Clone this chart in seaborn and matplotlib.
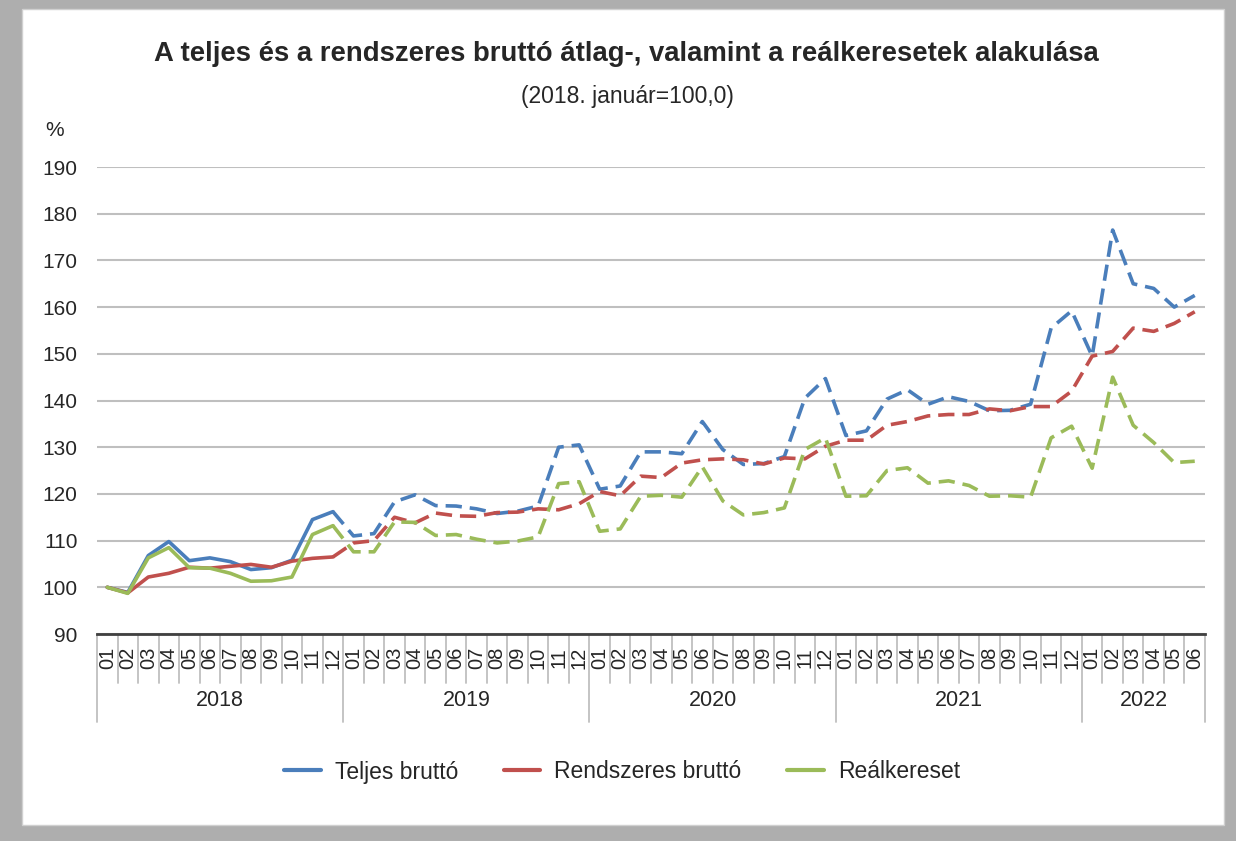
import numpy as np
import pandas as pd
import matplotlib.pyplot as plt
import matplotlib.transforms as mtransforms
from matplotlib.patches import Rectangle
from matplotlib.lines import Line2D
import seaborn as sns

# data (2018. január = 100,0)
years = ["2018", "2019", "2020", "2021", "2022"]
months_per_year = [12, 12, 12, 12, 6]
month_labels = [f"{m:02d}" for n in months_per_year for m in range(1, n + 1)]

teljes = [100.0, 98.9, 106.8, 109.8, 105.7, 106.3, 105.5, 103.8, 104.2, 105.8, 114.5, 116.2,
          111.0, 111.5, 118.3, 119.8, 117.5, 117.4, 116.8, 115.8, 116.3, 117.4, 130.0, 130.5,
          121.0, 121.7, 129.0, 129.0, 128.6, 135.5, 129.5, 126.3, 126.5, 128.0, 140.5, 144.7,
          132.5, 133.5, 140.3, 142.3, 139.2, 140.8, 139.8, 137.8, 137.9, 139.2, 155.5, 159.2,
          149.5, 176.5, 165.0, 164.0, 160.0, 162.5]
rendszeres = [100.0, 98.8, 102.2, 103.0, 104.3, 104.1, 104.5, 104.9, 104.3, 105.6, 106.2, 106.5,
              109.5, 110.0, 115.0, 113.8, 115.9, 115.3, 115.2, 116.0, 116.1, 116.8, 116.6, 117.9,
              120.5, 119.6, 123.8, 123.5, 126.6, 127.3, 127.5, 127.3, 126.4, 127.7, 127.5, 130.2,
              131.5, 131.5, 134.7, 135.5, 136.7, 137.0, 137.0, 138.2, 137.8, 138.7, 138.7, 142.0,
              149.5, 150.5, 155.5, 154.8, 156.5, 159.0]
realkereset = [100.0, 98.7, 106.3, 108.5, 104.2, 104.1, 103.0, 101.3, 101.4, 102.2, 111.3, 113.2,
               107.6, 107.6, 114.0, 113.9, 111.1, 111.3, 110.3, 109.5, 109.9, 110.8, 122.2, 122.6,
               112.0, 112.5, 119.5, 119.7, 119.3, 125.8, 118.5, 115.5, 116.0, 117.0, 129.5, 132.0,
               119.5, 119.6, 125.0, 125.6, 122.3, 122.8, 121.8, 119.5, 119.6, 119.3, 132.0, 134.5,
               125.5, 145.0, 134.7, 131.0, 126.7, 127.0]

series_names = ["Teljes bruttó", "Rendszeres bruttó", "Reálkereset"]
colors = ["#4a7ebb", "#c0504d", "#9bbb59"]
solid_until = 11  # 2018-12, dashed afterwards

n = len(month_labels)
df = pd.DataFrame({"idx": np.tile(np.arange(n), 3),
                   "series": np.repeat(series_names, n),
                   "value": teljes + rendszeres + realkereset})

sns.set_theme(style="white")
plt.rcParams["font.family"] = ["Liberation Sans", "DejaVu Sans"]
text_col = "#262626"

fig = plt.figure(figsize=(12.36, 8.41), dpi=100)
fig.patch.set_facecolor("#aeaeae")
W, H = 1236, 841
fig.patches.append(Rectangle((22 / W, 1 - 825 / H), (1224 - 22) / W, (825 - 9) / H,
                             transform=fig.transFigure, facecolor="white",
                             edgecolor="#d0d0d0", lw=1, zorder=-10))

ax = fig.add_axes([97 / W, 1 - 634 / H, (1205 - 97) / W, (634 - 167) / H])
ax.set_facecolor("none")
palette = dict(zip(series_names, colors))

sns.lineplot(data=df[df["idx"] <= solid_until], x="idx", y="value", hue="series",
             palette=palette, lw=2.6, ax=ax, legend=False)
sns.lineplot(data=df[df["idx"] >= solid_until], x="idx", y="value", hue="series",
             palette=palette, lw=2.6, ax=ax, legend=False)
for line in ax.lines[3:]:
    line.set_dashes((4.5, 2.2))

ax.set_xlim(-0.5, n - 0.5)
ax.set_ylim(90, 190)
ax.set_yticks(range(90, 191, 10))
ax.yaxis.grid(True, color="#bfbfbf", lw=1.5)
ax.set_axisbelow(True)
for s in ["left", "right", "top"]:
    ax.spines[s].set_visible(False)
ax.spines["bottom"].set_color("#404040")
ax.spines["bottom"].set_linewidth(2)
ax.set_xticks([])
ax.tick_params(axis="y", length=0, labelsize=15, labelcolor=text_col, pad=14)
ax.set_xlabel("")
ax.set_ylabel("")

# two-level category axis
trans = mtransforms.blended_transform_factory(ax.transData, ax.transAxes)
ph = 634 - 167
for i, lab in enumerate(month_labels):
    ax.text(i, -(658 - 634) / ph, lab, transform=trans, rotation=90,
            ha="center", va="center", fontsize=14.5, color=text_col)
bounds = np.cumsum([0] + months_per_year)
for i in range(n + 1):
    low = -(722 - 634) / ph if i in bounds else -(683 - 634) / ph
    ax.plot([i - 0.5, i - 0.5], [0, low], transform=trans, color="#bfbfbf",
            lw=1.3, clip_on=False)
for y, a, b in zip(years, bounds[:-1], bounds[1:]):
    ax.text((a + b - 1) / 2, -(700 - 634) / ph, y, transform=trans,
            ha="center", va="center", fontsize=15.5, color=text_col)

fig.text(626 / W, 1 - 54 / H, "A teljes és a rendszeres bruttó átlag-, valamint a reálkeresetek alakulása",
         ha="center", va="center", fontsize=19.8, fontweight="bold", color=text_col)
fig.text(627 / W, 1 - 97 / H, "(2018. január=100,0)", ha="center", va="center",
         fontsize=16.5, color=text_col)
fig.text(55 / W, 1 - 130 / H, "%", ha="center", va="center", fontsize=15, color=text_col)

handles = [Line2D([], [], color=c, lw=3) for c in colors]
fig.legend(handles, series_names, loc="center", bbox_to_anchor=(622 / W, 1 - 772 / H),
           ncol=3, frameon=False, fontsize=16.5, handlelength=1.6, columnspacing=2.0,
           handletextpad=0.6, labelcolor=text_col)

fig.savefig("out.png", dpi=100, facecolor=fig.get_facecolor())
